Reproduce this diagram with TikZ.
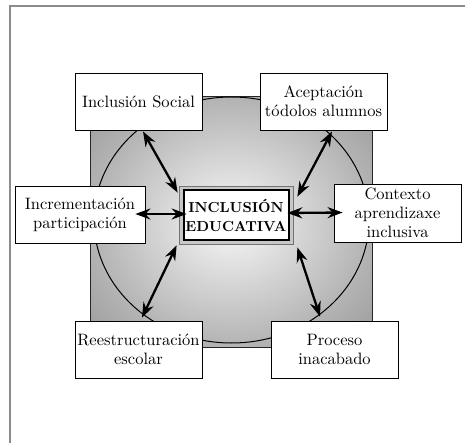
\documentclass[tikz,border=0pt]{standalone}
\usepackage{fontspec}
\setmainfont{lmroman10-regular.otf}[BoldFont=lmroman10-bold.otf]
\usetikzlibrary{arrows.meta,calc}
\definecolor{cA}{gray}{0.94}
\definecolor{cM}{gray}{0.70}
\definecolor{cB}{gray}{0.46}
\definecolor{cC}{gray}{0.33}
\definecolor{framegray}{gray}{0.55}
\pgfdeclareradialshading{sqshade}{\pgfpoint{0bp}{0bp}}{color(0bp)=(cA); color(3bp)=(cA); color(25bp)=(cM); color(50bp)=(cB); color(71bp)=(cC); color(100bp)=(cC)}
\tikzset{
  box/.style={draw=black, line width=0.8pt, fill=white, minimum width=127pt, minimum height=57pt,
    inner sep=0pt, align=center, font=\fontsize{16.5}{19}\selectfont},
  arr/.style={{Stealth[length=15pt,width=11pt,inset=5pt]}-{Stealth[length=15pt,width=11pt,inset=5pt]}, line width=2.3pt},
}
\begin{document}
\begin{tikzpicture}[x=1pt,y=-1pt]
\useasboundingbox (0,0) rectangle (465,443);
% outer frame
\draw[framegray, line width=2pt] (10,446) -- (10,6) -- (468,6);
% shaded square and ellipse
\shade[shading=sqshade] (90,97) rectangle (372,347);
\draw[black!85, line width=1pt] (90,97) rectangle (372,347);
\draw[line width=1pt] (231.5,220) ellipse [x radius=137.5, y radius=123];
% boxes
\node[box] (soc) at (138.5,101.5) {Inclusión Social};
\node[box] (acc) at (323.5,101.5) {Aceptación\\tódolos alumnos};
\node[box, minimum width=130pt] (inc) at (80,214.5) {Incrementación\\participación};
\node[box, minimum height=58pt] (ctx) at (397.5,213) {Contexto\\aprendizaxe\\inclusiva};
\node[box] (ree) at (138.5,349.5) {Reestructuración\\escolar};
\node[box] (pro) at (334.5,349.5) {Proceso\\inacabado};
% centre
\node[draw=black!55, line width=0.7pt, fill=black!22, minimum width=114pt, minimum height=58pt, inner sep=0pt] (cen) at (236,215) {};
\node[draw=black, line width=2pt, fill=white, minimum width=105pt, minimum height=50pt, inner sep=0pt,
  align=center, font=\fontsize{14.5}{19}\selectfont\bfseries] (cin) at (cen) {INCLUSIÓN\\EDUCATIVA};
% arrows
\draw[arr] ($(soc.south)+(4.5,1)$) -- ($(cen.north west)+(-1,7)$);
\draw[arr] ($(acc.south)+(8.5,1)$) -- ($(cen.north east)+(4,11)$);
\draw[arr] ($(inc.east)+(-10,-0.5)$) -- ($(cen.west)+(8,-1)$);
\draw[arr] ($(cen.east)+(-6,-2)$) -- ($(ctx.west)+(9,-0.5)$);
\draw[arr] ($(cen.south west)+(-2,1)$) -- ($(ree.north)+(3.5,-3)$);
\draw[arr] ($(cen.south east)+(4,3)$) -- ($(pro.north)+(-14.5,-4)$);
\end{tikzpicture}
\end{document}
